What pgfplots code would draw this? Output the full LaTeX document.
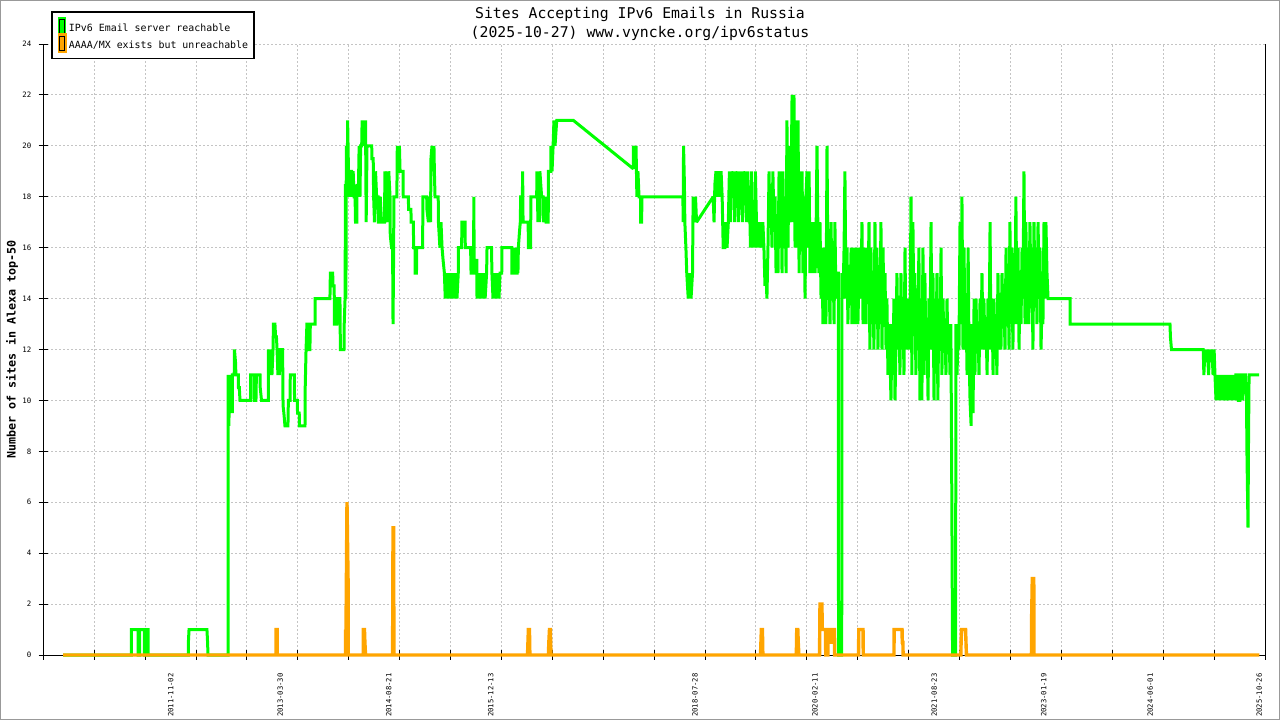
\documentclass[border=0pt]{standalone}
\usepackage{fontspec}
\setmainfont{DejaVu Sans Mono}
\setmonofont{DejaVu Sans Mono}
\usepackage{pgfplots}
\pgfplotsset{compat=1.18}
\usepackage{pgfplotstable}
\definecolor{ipvgreen}{HTML}{00FF00}
\definecolor{ipvorange}{HTML}{FFA500}
\definecolor{gridgray}{HTML}{C4C4C4}
\definecolor{framegray}{HTML}{999999}

% x = days since 2011-11-02, y = number of sites
\pgfplotstableread{
x y
-505 0
-184 0
-184 1
-153 1
-153 0
-146 0
-146 1
-123 1
-123 0
-116 0
-116 1
-106 1
-106 0
83 0
83 0.5
86 1
170 1
173 0.5
175 0
266 0
269 0
269 11
273 9
276 11
280 10
283 11
289 9.5
289 11
298 11
299 12
304 11.5
306 11
317 11
318 10.5
322 10.5
325 10
375 10
375 11
391 11
392 10
400 10
402 11
419 11
420 10.5
426 10
458 10
458 12
461 11
464 12
467 11
470 12
475 11
480 12
482 13
489 13
492 12.5
496 12.5
499 12
503 11
506 12
510 11
513 12
525 12
527 9.8
531 9.5
536 9
550 9
552 10
560 10
561 11
580 11
581 10
594 10
595 9.5
603 9.5
604 9
630 9
631 10.5
635 12
637 12.5
639 13
646 13
647 12
653 12
655 13
677 13
678 14
747 14
749 15
760 15
761 14.5
767 14.5
768 13
779 13
780 14
794 14
796 12
813 12
814 13
818 14
820 18.5
822 14
824 20
828 18
830 21
833 19.5
836 18
840 19
842 18
846 19
849 19
852 18
856 19
860 18
865 18
867 17
873 17
874 18.5
880 18
884 20
888 18
891 20
896 20
898 21
902 20.5
905 21
911 20
914 21
917 17
921 20
943 20
944 19.5
950 19.5
952 18
956 17
961 19
966 18
973 18
974 17
982 17
983 18
989 17
1003 17
1005 19
1010 18
1013 19
1019 17
1023 19
1029 18
1030 16.5
1036 16
1041 16
1043 13
1046 16
1047 18
1061 18
1063 20
1068 19
1073 20
1076 19
1090 19
1091 18
1115 18
1116 17.5
1127 17.5
1128 17
1138 17
1140 16
1146 16
1147 15
1153 15
1154 16
1169 16
1182 16
1183 18
1201 18
1202 17.5
1209 17
1214 18
1219 17
1221 19.5
1226 20
1230 19
1235 20
1237 19
1240 18
1255 18
1256 17
1263 16
1268 17
1273 16
1278 15.5
1284 15
1288 14
1291 15
1296 14
1301 15
1306 14
1310 15
1315 14
1319 15
1324 14
1329 15
1334 14
1338 15
1343 14
1349 15
1350 16
1365 16
1366 17
1381 17
1382 16
1407 16
1409 15
1421 15
1422 18
1424 15
1428 15.5
1436 15.5
1437 14
1442 15
1446 14
1451 15
1456 14
1460 15
1465 14
1470 15
1475 14
1482 15
1484 16
1505 16
1507 15
1512 14
1516 15
1521 14
1526 15
1530 14
1535 15
1540 14
1545 15
1553 15
1554 16
1600 16
1601 15
1610 15
1612 16
1615 15
1625 15
1626 16
1629 15
1631 16
1636 16.6
1640 17
1642 18
1650 18
1651 19
1653 17
1677 17
1678 16
1688 16
1690 18
1717 18
1718 19
1723 17
1725 19
1730 17
1732 19
1740 18
1747 18
1748 17
1756 18
1761 17
1771 17
1772 19
1783 19
1784 20
1789 19
1794 20
1798 21
1803 20
1811 21
1889 21
2170 19.1
2171 20
2178 19.5
2183 20
2187 18
2192 19
2197 18
2204 18
2205 17
2209 17
2211 18
2403 18
2404 17
2406 20
2410 18.5
2412 17
2417 16
2421 15
2428 14
2436 15
2441 14
2448 15
2451 18
2457 17
2462 18
2467 17
2545 18
2549 17
2553 18.5
2558 19
2565 18
2570 19
2577 18
2582 19
2587 18
2592 16
2600 16
2603 17
2610 16
2616 17
2621 19
2625 17
2630 19
2635 18
2640 19
2645 17
2649 19
2654 18
2659 19
2663 17
2668 19
2673 17.5
2677 19
2682 17
2687 19
2692 18
2696 19
2701 17
2706 19
2710 17
2715 18
2720 16
2724 19
2729 16
2734 17
2738 16
2743 19
2748 17
2753 16
2757 17
2762 16
2767 17
2774 16
2778 17
2783 16
2788 14.5
2793 15
2797 14
2802 16
2807 19
2811 17
2816 18
2821 16
2825 19
2830 17
2835 18
2840 15
2844 17
2849 15
2854 19
2858 16
2863 19
2868 15
2872 19
2877 16
2882 18
2887 15
2891 21
2896 16
2901 20
2905 17
2910 18
2915 22
2919 17
2924 22
2929 16
2934 21
2938 16
2943 21
2948 15
2952 19
2957 16
2962 19
2966 15
2971 18
2976 14
2980 18
2985 19
2990 16
2995 19
2999 15
3004 17
3009 15
3013 16
3018 17
3023 15
3027 16
3032 20
3037 16
3041 15
3046 17
3051 14
3055 16
3060 13
3065 15
3070 16
3074 13
3079 20
3084 14
3088 15
3093 13
3098 17
3102 14
3107 16
3112 13
3116 17
3121 14
3126 15
3132 15
3133 0
3148 0
3149 15
3154 14
3159 16
3163 19
3168 14
3173 16
3177 13
3182 15
3187 14
3192 16
3196 13
3201 15
3206 16
3210 13
3215 14
3220 16
3224 13
3229 15
3234 16
3238 14
3243 17
3248 13
3252 15
3257 16
3262 13
3266 16
3271 14
3276 17
3280 12
3285 16
3290 13
3294 15
3299 12
3304 17
3309 13
3313 16
3318 12
3323 15
3327 13
3332 17
3337 12
3342 16
3346 13
3351 15
3356 12
3360 14
3365 11
3370 13
3374 12
3379 10
3384 13
3388 11
3393 14
3398 10
3402 12
3407 15
3412 12
3416 14
3421 11
3426 15
3430 12
3435 14
3440 11
3445 16
3449 12
3454 14
3458 12
3463 14
3468 12
3473 18
3477 11
3482 17
3487 13
3491 15
3496 11
3501 14
3505 12
3510 16
3515 10
3519 14
3524 10
3529 16
3534 11
3538 15
3543 12
3548 13
3553 10
3557 14
3562 12
3567 17
3571 12
3576 15
3581 10
3585 14
3590 12
3595 15
3599 10
3604 14
3609 12
3614 16
3618 11
3623 14
3628 12
3632 13
3637 11
3642 14
3646 12
3651 13
3656 11
3660 13
3664 7
3668 0
3682 0
3684 13
3689 11
3694 13
3698 12
3703 17
3708 13
3712 18
3717 12
3722 16
3726 12
3731 14
3736 11
3741 16
3745 12
3750 10
3755 9
3759 13
3764 9.5
3769 14
3773 11
3778 14
3783 12
3787 13
3792 11
3797 14
3801 12
3806 15
3811 12
3815 14
3820 12
3825 13
3830 11
3834 14
3839 12
3844 17
3848 12
3853 14
3858 11
3862 14
3867 12
3872 13
3876 11
3881 15
3886 12
3890 14
3895 12
3900 15
3905 13
3909 14
3914 12
3919 16
3923 13
3928 15
3933 12
3937 17
3942 13
3947 16
3951 12
3956 15
3961 13
3965 18
3970 13
3975 16
3980 12
3984 15
3989 13
3994 16
3998 14
4003 19
4008 13
4012 17
4017 13
4022 16
4026 13
4031 17
4036 14
4040 16
4045 12
4050 17
4055 14
4059 16
4064 13
4069 17
4073 15
4078 16
4083 12
4088 14
4092 13
4097 17
4102 14
4106 17
4111 15
4116 14
4219 14
4220 13
4688 13
4690 12.5
4695 12
4844 12
4847 11
4852 12
4859 11.5
4864 12
4869 11
4873 12
4880 11.5
4885 12
4890 11
4895 12
4899 11
4904 10
4908 11
4913 10
4918 11
4923 10
4927 11
4932 10
4937 11
4941 10
4948 11
4953 10
4960 11
4964 10
4969 11
4974 10
4979 11
4983 10
4988 11
4993 10
4997 11
5006 11
5009 10
5016 10
5018 11
5026 11
5028 10
5035 11
5042 11
5047 10
5049 8
5054 5
5056 8
5059 11
5106 11
}\greendata

\pgfplotstableread{
x y
-505 0
494 0
494 1
499 1
499 0
820 0
820 1
822 0.5
827 6
832 3
833 0
904 0
904 1
909 1
911 0.5
914 0
1041 0
1043 5
1046 5
1047 0
1674 0
1676 0.5
1678 1
1683 1
1685 0
1772 0
1774 0.5
1777 1
1781 1
1784 0
2767 0
2769 0.5
2771 1
2776 1
2778 0
2935 0
2937 1
2942 1
2944 0.5
2947 0
3044 0
3045 1
3046 2
3055 2
3057 1
3072 1
3073 0
3083 0
3084 1
3093 1
3094 0.5
3098 0.5
3100 1
3114 1
3115 0
3227 0
3228 1
3248 1
3249 0
3393 0
3394 1
3431 1
3432 0.5
3435 0.5
3436 0
3707 0
3708 0.5
3710 1
3729 1
3731 0.5
3733 0
4038 0
4039 1.5
4042 3
4049 3
4050 0
5107 0
}\orangedata

\begin{document}
\begin{tikzpicture}
\path[use as bounding box] (0,0) rectangle (640pt,360pt);
\fill[white] (0,0) rectangle (640pt,360pt);
\draw[framegray, line width=0.6pt] (0.3pt,0.3pt) rectangle (639.7pt,359.7pt);
\begin{axis}[
  at={(21.65pt,32.5pt)}, anchor=south west,
  scale only axis, width=610.85pt, height=305.5pt,
  xmin=-597.7, xmax=5133.8, ymin=0, ymax=24,
  clip=false,
  axis x line*=bottom, axis y line*=box,
  ytick pos=left,
  axis line style={black, line width=0.5pt},
  xtick={-597.7,-358.9,-120.1,118.7,357.5,596.4,835.2,1074.0,1312.8,1551.6,1790.4,2029.2,2268.0,2506.8,2745.7,2984.5,3223.3,3462.1,3700.9,3939.7,4178.5,4417.3,4656.1,4895.0,5133.8},
  xticklabels={},
  extra x ticks={0,514,1023,1502,2460,3023,3582,4096,4595,5107},
  extra x tick labels={2011-11-02,2013-03-30,2014-08-21,2015-12-13,2018-07-28,2020-02-11,2021-08-23,2023-01-19,2024-06-01,2025-10-26},
  extra x tick style={grid=none, tick style={draw=none}},
  ytick={0,2,...,24},
  tick align=center, major tick length=4.6pt,
  tick style={black, line width=0.5pt},
  grid=major,
  major grid style={gridgray, line width=0.5pt, dash pattern=on 0.8pt off 1.2pt},
  /pgf/number format/assume math mode=true,
  xticklabel style={rotate=90, anchor=east, inner sep=0pt, font=\fontsize{3.6}{4}\selectfont},
  yticklabel style={anchor=east, inner sep=0pt, font=\fontsize{3.7}{4}\selectfont},
  xticklabel shift=6.7pt, yticklabel shift=3.5pt,
  ylabel={Number of sites in Alexa top-50},
  every axis y label/.style={at={(axis description cs:-0.0256,0.5)}, rotate=90, anchor=center, font=\bfseries\fontsize{5.85}{6}\selectfont},
  legend style={at={(0.00606,1.0545)}, anchor=north west, draw=black, line width=0.9pt, fill=white,
    inner xsep=3pt, inner ysep=2.6pt, font=\fontsize{4.96}{5}\selectfont,
    row sep=-1.65pt, column sep=1.2pt, cells={anchor=west},
    nodes={inner sep=0pt, text height=5.2pt, text depth=0pt}},
  legend image code/.code={
    \path (0pt,-4.175pt) rectangle (2.8pt,4.175pt);
    \filldraw[#1, draw=black, line width=0.5pt] (0.25pt,-3.5pt) rectangle (2.55pt,3.5pt);
  },
]
\addplot[ipvgreen, line width=1.5pt, line join=miter, miter limit=2] table {\greendata};
\addlegendentry{IPv6 Email server reachable}
\addplot[ipvorange, line width=1.7pt, line join=miter, miter limit=2] table {\orangedata};
\addlegendentry{AAAA/MX exists but unreachable}
\end{axis}
\node[anchor=base, font=\fontsize{7.4}{9}\selectfont, inner sep=0pt] at (320pt,350.75pt) {Sites Accepting IPv6 Emails in Russia};
\node[anchor=base, font=\fontsize{7.4}{9}\selectfont, inner sep=0pt] at (320pt,341.5pt) {(2025-10-27) www.vyncke.org/ipv6status};
\end{tikzpicture}
\end{document}
